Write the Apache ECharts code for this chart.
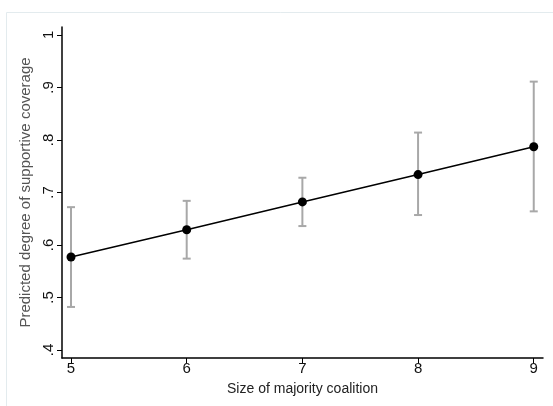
<!DOCTYPE html>
<html>
<head>
<meta charset="utf-8">
<script src="https://cdn.jsdelivr.net/npm/echarts@6/dist/echarts.min.js"></script>
<style>html,body{margin:0;padding:0;background:#fff;}#c{width:553px;height:406px;}</style>
</head>
<body>
<div id="c"></div>
<script>
const coalitionSize = [5, 6, 7, 8, 9];
const predicted = [0.577, 0.629, 0.682, 0.734, 0.787];
const ciLow = [0.482, 0.574, 0.636, 0.657, 0.664];
const ciHigh = [0.672, 0.684, 0.728, 0.814, 0.911];
const xTicks = [5, 6, 7, 8, 9];
const yTicks = [0.4, 0.5, 0.6, 0.7, 0.8, 0.9, 1.0];

const chart = echarts.init(document.getElementById('c'), null, {renderer: 'canvas'});
const font = 'Liberation Sans, Arial, Helvetica, sans-serif';
const fmtY = v => { const r = Math.round(v * 10) / 10; return r === 1 ? '1' : String(r).replace(/^0/, ''); };

chart.setOption({
  animation: false,
  backgroundColor: '#fff',
  graphic: [{
    type: 'rect', silent: true, z: -1,
    shape: {x: 6.5, y: 12.5, width: 600, height: 420},
    style: {fill: null, stroke: '#e3ebee', lineWidth: 1}
  }],
  grid: {left: 62, right: 10, top: 27, bottom: 48},
  xAxis: {
    type: 'value', min: 4.922, max: 9.08,
    name: 'Size of majority coalition', nameLocation: 'middle', nameGap: 24,
    nameTextStyle: {fontFamily: font, fontSize: 14, color: '#222'},
    axisLine: {show: true, lineStyle: {color: '#000', width: 1.5}},
    axisTick: {show: true, length: 5, customValues: xTicks, lineStyle: {color: '#000', width: 1}},
    axisLabel: {customValues: xTicks, fontFamily: font, fontSize: 15, color: '#111', margin: 3},
    splitLine: {show: false}
  },
  yAxis: {
    type: 'value', min: 0.3848, max: 1.015,
    name: 'Predicted degree of supportive coverage', nameLocation: 'middle', nameGap: 25,
    nameRotate: 90,
    nameTextStyle: {fontFamily: font, fontSize: 15, color: '#555'},
    axisLine: {show: true, lineStyle: {color: '#000', width: 1.5}},
    axisTick: {show: true, length: 5, customValues: yTicks, lineStyle: {color: '#000', width: 1}},
    axisLabel: {customValues: yTicks, rotate: 90, formatter: fmtY, fontFamily: font, fontSize: 15, color: '#111', margin: 6},
    splitLine: {show: false}
  },
  series: [
    {
      type: 'custom', z: 1,
      data: coalitionSize.map((x, i) => [x, ciLow[i], ciHigh[i]]),
      renderItem: function (params, api) {
        const lo = api.coord([api.value(0), api.value(1)]);
        const hi = api.coord([api.value(0), api.value(2)]);
        const hw = 4;
        const st = {stroke: '#a8a8a8', lineWidth: 2};
        return {type: 'group', children: [
          {type: 'line', shape: {x1: lo[0], y1: lo[1], x2: hi[0], y2: hi[1]}, style: st},
          {type: 'line', shape: {x1: lo[0] - hw, y1: lo[1], x2: lo[0] + hw, y2: lo[1]}, style: st},
          {type: 'line', shape: {x1: hi[0] - hw, y1: hi[1], x2: hi[0] + hw, y2: hi[1]}, style: st}
        ]};
      }
    },
    {
      type: 'line', z: 3,
      data: coalitionSize.map((x, i) => [x, predicted[i]]),
      symbol: 'circle', symbolSize: 9,
      lineStyle: {color: '#000', width: 1.5},
      itemStyle: {color: '#000'}
    }
  ]
});
</script>
</body>
</html>
